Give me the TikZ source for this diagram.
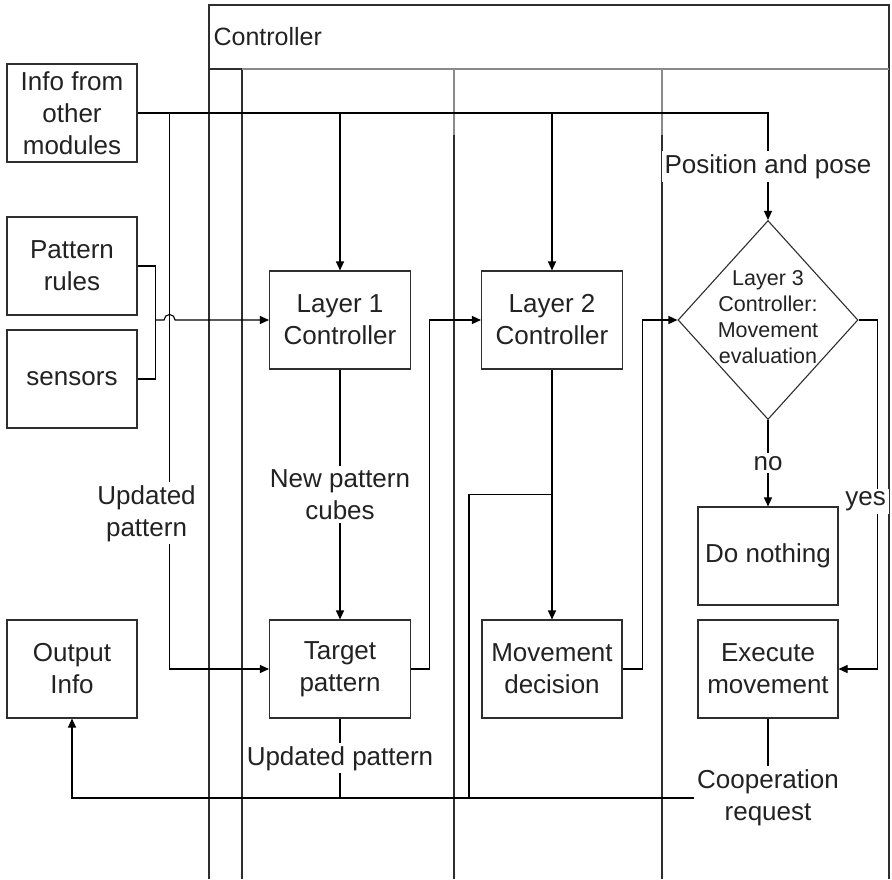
\documentclass[tikz,border=0pt]{standalone}
\usepackage{fontspec}
\setmainfont{Liberation Sans}
\usetikzlibrary{arrows.meta,shapes.geometric}
\definecolor{InkGray}{HTML}{222222}
\definecolor{LineGray}{HTML}{2E2E2E}
\definecolor{LaneGray}{HTML}{8A8A8A}

\begin{document}
\begin{tikzpicture}[x=1pt, y=-1pt, node distance=100pt, line width=1.1pt,
  every node/.style={font=\fontsize{26}{32}\selectfont, text=InkGray},
  >={Triangle[length=9pt, width=8pt]}]
  \tikzstyle{module}=[rectangle, draw=LineGray, fill=white, minimum width=130pt,
  minimum height=98pt, align=center, inner sep=2pt]
  \tikzstyle{block}=[module, minimum width=140pt]
  \tikzstyle{check}=[diamond, draw=LineGray, fill=white, minimum width=180pt,
  minimum height=199pt, inner sep=0pt]
  \tikzstyle{tag}=[fill=white, align=center, inner sep=3pt]
  \useasboundingbox (0,0) rectangle (892,879);
  % pool, header and lanes
  \draw[LineGray] (209,879) -- (209,5) -- (889,5) -- (889,879);
  \draw[LineGray] (209,69) -- (242,69) -- (242,879);
  \draw[LaneGray] (242,69) -- (889,69);
  \foreach \x in {454,662} {
    \draw[LaneGray] (\x,69) -- (\x,135);
    \draw[LineGray] (\x,135) -- (\x,879);
  }
  \node[anchor=west, inner sep=2pt, font=\fontsize{25}{30}\selectfont] (pool) at (211,37) {Controller};
  % outside modules
  \node[module] (info) at (72,113) {Info from\\other\\modules};
  \node[module, below of=info, yshift=-53pt] (rules) {Pattern\\rules};
  \node[module, below of=rules, yshift=-13pt] (sensors) {sensors};
  \node[module, below of=sensors, yshift=-190pt] (output) {Output\\Info};
  % controller layers
  \node[block, minimum width=141pt] (layer1) at (340,320) {Layer 1\\Controller};
  \node[block, minimum width=141pt, below of=layer1, yshift=-249pt] (target) {Target\\pattern};
  \node[block, minimum width=141pt, right of=layer1, xshift=112pt] (layer2) {Layer 2\\Controller};
  \node[block, below of=layer2, yshift=-249pt] (decision) {Movement\\decision};
  \node[check, right of=layer2, xshift=116pt] (evaluation) {};
  \node[font=\fontsize{21.5}{26}\selectfont, align=center, yshift=3pt] (evaltext) at (evaluation)
    {Layer 3\\Controller:\\Movement\\evaluation};
  \node[block, below of=evaluation, yshift=-136pt] (nothing) {Do nothing};
  \node[block, below of=nothing, yshift=-13pt] (execute) {Execute\\movement};
  \node[tag, below of=execute, yshift=-29pt] (coop) {Cooperation\\request};
  % flows
  \draw[->] (info.east) -| node[tag, pos=0.75] (pose) {Position and pose} (evaluation.north);
  \draw[->] (layer1 |- info.east) -- (layer1.north);
  \draw[->] (layer2 |- info.east) -- (layer2.north);
  \draw[->] ([xshift=32pt]info.east) |- node[tag, pos=0.36, xshift=-23pt] {Updated\\pattern} (target.west);
  \draw (rules.east) -- ++(18,0) coordinate (bus) |- (sensors.east);
  \draw[->] (bus |- layer1.west) -- ++(8.5,0) arc[start angle=180, end angle=0, radius=5.5pt] -- (layer1.west);
  \draw[->] (layer1) -- node[tag] {New pattern\\cubes} (target);
  \draw[->] (target.east) -- ++(18,0) |- (layer2.west);
  \draw[->] (layer2) -- coordinate[midway] (tap) (decision);
  \draw (tap) -- ++(-83,0) coordinate (drop) -- (drop |- coop.west);
  \draw[->] (decision.east) -- ++(20,0) |- (evaluation.west);
  \draw[->] (evaluation) -- node[tag] {no} (nothing);
  \draw[->] (evaluation.east) -- ++(19,0) |- node[tag, pos=0.26, xshift=-12pt] {yes} (execute.east);
  \draw (execute) -- (coop);
  \draw[->] (coop.west) -| (output.south);
  \draw (target) -- node[tag] {Updated pattern} (target |- coop.west);
\end{tikzpicture}
\end{document}
